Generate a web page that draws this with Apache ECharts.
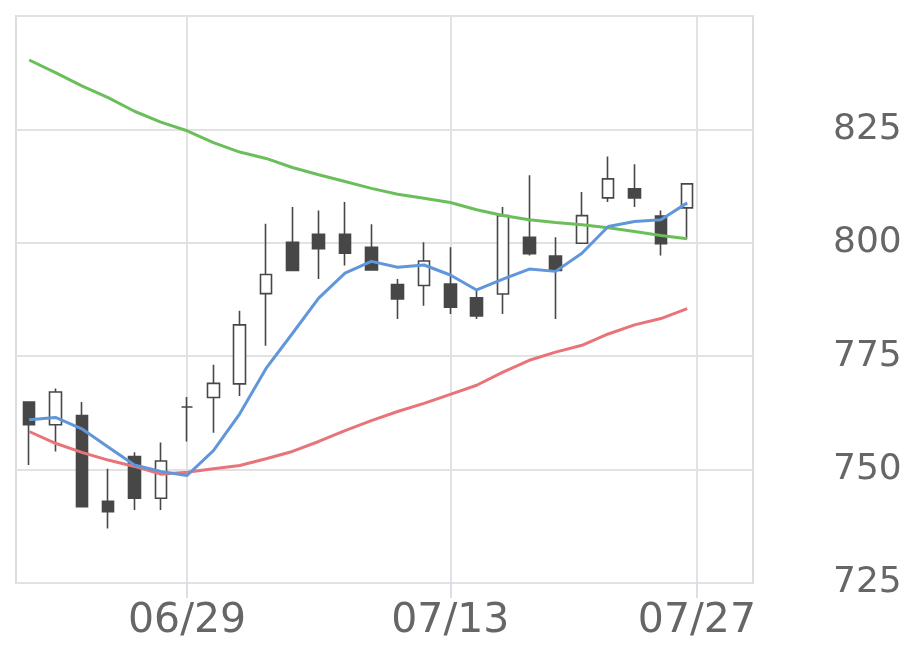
<!DOCTYPE html>
<html>
<head>
<meta charset="utf-8">
<script src="https://cdn.jsdelivr.net/npm/echarts@6/dist/echarts.min.js"></script>
<style>
  html, body { margin: 0; padding: 0; background: #fff; }
  #chart { width: 920px; height: 669px; }
</style>
</head>
<body>
<div id="chart"></div>
<script>
// trading days (last two are empty slots to the right)
const dates = ['06/19','06/22','06/23','06/24','06/25','06/26','06/29','06/30','07/01','07/02',
  '07/03','07/06','07/07','07/08','07/09','07/10','07/13','07/14','07/15','07/16',
  '07/17','07/20','07/21','07/22','07/23','07/24','07/27','07/28'];

const open  = [764.9,759.9,761.9,743.0,752.9,743.7,763.8,765.9,768.9,788.8,800.1,801.9,801.9,799.0,790.8,790.6,790.9,787.9,788.7,801.2,797.1,799.9,809.9,811.9,805.9,807.7];
const close = [759.9,767.1,741.8,740.7,743.7,751.9,763.8,769.0,781.9,793.0,793.9,798.7,797.7,794.0,787.6,796.0,785.8,783.9,806.0,797.6,793.9,806.0,814.1,809.9,799.8,813.0];
const low   = [751.0,754.0,741.8,737.0,741.1,741.1,756.2,758.1,766.2,777.3,793.9,792.0,795.0,794.0,783.2,786.1,784.3,783.2,784.3,797.2,783.2,799.9,809.0,807.9,797.2,800.9];
const high  = [764.9,767.9,764.9,750.2,753.8,756.0,766.0,773.1,785.0,804.2,807.9,807.1,809.0,804.1,792.0,800.1,799.0,789.6,807.9,814.9,801.2,811.2,819.0,817.3,807.1,813.0];

const ma5  = [761.0,761.5,759.0,755.0,751.0,749.6,748.7,754.2,762.3,772.3,780.0,787.8,793.3,795.9,794.6,795.1,792.9,789.6,792.0,794.2,793.7,797.7,803.6,804.7,805.1,808.8];
const ma25 = [758.4,755.8,753.8,752.1,750.7,749.0,749.4,750.2,750.9,752.4,754.0,756.2,758.6,760.8,762.8,764.6,766.6,768.6,771.5,774.1,775.9,777.4,779.9,781.9,783.3,785.5];
const ma75 = [840.3,837.5,834.6,832.0,829.0,826.6,824.7,822.1,820.0,818.6,816.6,815.0,813.5,812.0,810.7,809.8,808.9,807.3,806.0,805.1,804.5,804.0,803.3,802.5,801.6,800.9];

// x tick labels and where they sit (in category-index units)
const tickLabels = ['06/29', '07/13', '07/27'];
const tickPos = [6, 16, 25.37];

const yTicks = [725, 750, 775, 800, 825];

const candleData = open.map((o, i) => [o, close[i], low[i], high[i]]);

const chart = echarts.init(document.getElementById('chart'));

const labelColor = '#666666';
const gridColor = '#e2e2e2';
const candleColor = '#474747';

const option = {
  animation: false,
  backgroundColor: '#ffffff',
  grid: {
    left: 16, right: 167, top: 16, bottom: 86,
    show: true,
    borderColor: '#dddddd',
    borderWidth: 2
  },
  xAxis: [
    {
      type: 'category',
      data: dates,
      boundaryGap: true,
      axisLine: { show: false },
      axisTick: { show: false },
      axisLabel: { show: false },
      splitLine: { show: false }
    },
    {
      type: 'value',
      position: 'bottom',
      min: -0.5,
      max: dates.length - 0.5,
      axisLine: { show: false },
      axisTick: {
        show: true,
        length: 15,
        customValues: tickPos,
        lineStyle: { color: '#ccd6eb', width: 1.5 }
      },
      axisLabel: {
        customValues: tickPos,
        fontSize: 41,
        color: labelColor,
        fontFamily: 'DejaVu Sans',
        margin: 18,
        formatter: v => {
          const k = tickPos.findIndex(p => Math.abs(p - v) < 0.01);
          return k >= 0 ? tickLabels[k] : '';
        }
      },
      splitLine: { show: true, lineStyle: { color: gridColor, width: 2 } }
    }
  ],
  yAxis: {
    type: 'value',
    position: 'right',
    min: 725,
    max: 850,
    interval: 25,
    axisLine: { show: false },
    axisTick: { show: false },
    axisLabel: {
      fontSize: 36,
      color: labelColor,
      fontFamily: 'DejaVu Sans',
      margin: 80,
      showMaxLabel: false,
      formatter: v => yTicks.includes(v) ? String(v) : ''
    },
    splitLine: { show: true, lineStyle: { color: gridColor, width: 2 } }
  },
  series: [
    {
      type: 'candlestick',
      xAxisIndex: 0,
      barWidth: 12,
      data: candleData,
      itemStyle: {
        color: '#ffffff',
        color0: candleColor,
        borderColor: candleColor,
        borderColor0: candleColor,
        borderWidth: 1.6
      }
    },
    {
      type: 'line', xAxisIndex: 0, data: ma75, symbol: 'none',
      lineStyle: { color: '#6abf5a', width: 3 }
    },
    {
      type: 'line', xAxisIndex: 0, data: ma25, symbol: 'none',
      lineStyle: { color: '#e8747a', width: 3 }
    },
    {
      type: 'line', xAxisIndex: 0, data: ma5, symbol: 'none',
      lineStyle: { color: '#6096da', width: 3 }
    }
  ]
};

chart.setOption(option);
</script>
</body>
</html>
